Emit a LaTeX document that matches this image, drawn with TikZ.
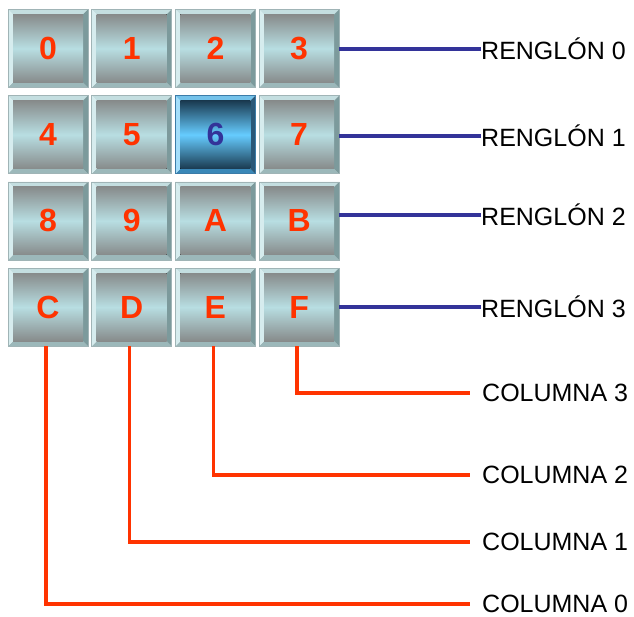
\documentclass[tikz,border=0pt]{standalone}
\usepackage{fontspec}
\setmainfont{Liberation Sans}
\definecolor{keyred}{HTML}{FF3300}
\definecolor{selblue}{HTML}{333399}
\definecolor{keyline}{HTML}{A0B4B6}
\tikzset{
  key/.style={minimum width=80pt, minimum height=78pt, inner sep=0pt,
    draw=keyline, line width=0.5pt, text=keyred,
    font=\fontsize{32}{32}\selectfont\bfseries,
    /utils/exec={\definecolor{bt}{HTML}{C4DEE0}\definecolor{bl}{HTML}{D6ECEE}
      \definecolor{br}{HTML}{7C9A9C}\definecolor{bb}{HTML}{9CB8BA}
      \definecolor{fe}{HTML}{878B8B}\definecolor{fm}{HTML}{B8DEE2}},
    path picture={
      \coordinate (o1) at (path picture bounding box.south west);
      \coordinate (o2) at (path picture bounding box.north east);
      \coordinate (i1) at ([shift={(5pt,5pt)}]o1);
      \coordinate (i2) at ([shift={(-5pt,-5pt)}]o2);
      \fill[bt] (o1 |- o2) -- (o2) -- (i2) -- (i1 |- i2) -- cycle;
      \fill[bb] (o1) -- (o2 |- o1) -- (i2 |- i1) -- (i1) -- cycle;
      \fill[bl] (o1) -- (i1) -- (i1 |- i2) -- (o1 |- o2) -- cycle;
      \fill[br] (o2 |- o1) -- (i2 |- i1) -- (i2) -- (o2) -- cycle;
      \fill[top color=fe, bottom color=fe, middle color=fm] (i1) rectangle (i2);
    }},
  keysel/.style={text=selblue, draw=selline,
    /utils/exec={\definecolor{selline}{HTML}{3C7CA8}
      \definecolor{bt}{HTML}{74C2EA}\definecolor{bl}{HTML}{A4DEFA}
      \definecolor{br}{HTML}{2A5878}\definecolor{bb}{HTML}{3A88B8}
      \definecolor{fe}{HTML}{1A3A50}\definecolor{fm}{HTML}{66CCFF}}},
  kstyle/.style={},
  row/.style={anchor=west, inner sep=0pt, font=\fontsize{25}{25}\selectfont},
  col/.style={anchor=west, inner ysep=0pt, inner xsep=12pt, font=\fontsize{25}{25}\selectfont},
  rowline/.style={draw=selblue, line width=3.5pt},
  colline/.style={draw=keyred, line width=3.5pt}
}
\begin{document}
\begin{tikzpicture}[x=1pt,y=-1pt]
\useasboundingbox (0,0) rectangle (634,617);
\foreach \k [count=\i from 0] in {0,1,2,3,4,5,6,7,8,9,A,B,C,D,E,F} {
  \pgfmathtruncatemacro\c{mod(\i,4)}
  \pgfmathtruncatemacro\r{int(\i/4)}
  \ifnum\i=6 \tikzset{kstyle/.style={keysel}}\fi
  \node[key, kstyle] (k\k) at (48+83.7*\c, 48.5+86.2*\r) {\k};
}
\node[row] (r0) at (481,49) {RENGLÓN 0};
\node[row] (r1) at (481,136) {RENGLÓN 1};
\node[row] (r2) at (481,215) {RENGLÓN 2};
\node[row] (r3) at (481,307) {RENGLÓN 3};
\node[col] (c3) at (470,393) {COLUMNA 3};
\node[col] (c2) at (470,475) {COLUMNA 2};
\node[col] (c1) at (470,542) {COLUMNA 1};
\node[col] (c0) at (470,604) {COLUMNA 0};
\draw[rowline] (k3.east |- r0.west) -- (r0.west);
\draw[rowline] (k7.east |- r1.west) -- (r1.west);
\draw[rowline] (kB.east |- r2.west) -- (r2.west);
\draw[rowline] (kF.east |- r3.west) -- (r3.west);
\draw[colline] ([xshift=-2pt]kF.south) |- (c3.west);
\draw[colline] ([xshift=-2pt]kE.south) |- (c2.west);
\draw[colline] ([xshift=-2pt]kD.south) |- (c1.west);
\draw[colline] ([xshift=-2pt]kC.south) |- (c0.west);
\end{tikzpicture}
\end{document}
